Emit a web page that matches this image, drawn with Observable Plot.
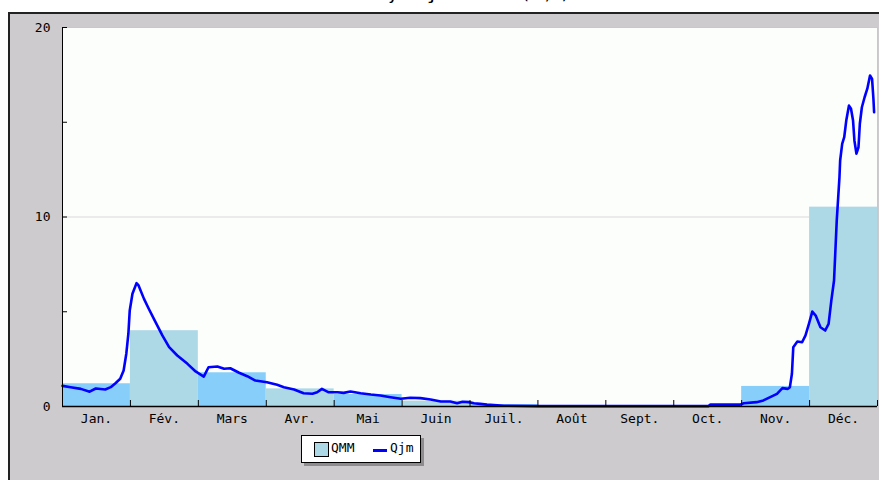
<!DOCTYPE html>
<html>
<head>
<meta charset="utf-8">
<script src="https://cdn.jsdelivr.net/npm/d3@7"></script>
<script src="https://cdn.jsdelivr.net/npm/@observablehq/plot@0.6"></script>
<style>
  html, body { margin: 0; padding: 0; background: #ffffff; }
  body { width: 879px; height: 480px; position: relative; overflow: hidden; font-family: "DejaVu Sans Mono", monospace; }
  #title { position: absolute; left: 8px; width: 871px; top: -11px; text-align: center; font-size: 13px; line-height: 13px; font-weight: bold; color: #000; }
  #panel { position: absolute; left: 8px; top: 12px; width: 869px; height: 466px; background: #cdcbce; border-top: 2px solid #222; border-left: 2px solid #222; }
  #chart { position: absolute; left: 0; top: 0; }
  #legend { position: absolute; left: 291px; top: 421px; width: 118px; height: 26px; background: #fff; border: 1px solid #000; box-shadow: 3px 3px 0 #8e8c8f; font-size: 13px; }
  #legend .sw { position: absolute; left: 12px; top: 6px; width: 13px; height: 13px; background: #add8e6; border: 1px solid #000; }
  #legend .t1 { position: absolute; left: 29px; top: 4px; }
  #legend .ln { position: absolute; left: 71px; top: 13px; width: 14px; height: 3px; background: #0000ff; }
  #legend .t2 { position: absolute; left: 88px; top: 4px; }
</style>
</head>
<body>
<div id="title">Débits moyens journaliers (m3/s)</div>
<div id="panel">
  <div id="chart"></div>
  <div id="legend"><div class="sw"></div><span class="t1">QMM</span><div class="ln"></div><span class="t2">Qjm</span></div>
</div>
<script>
// Month labels
const months = ["Jan.", "Fév.", "Mars", "Avr.", "Mai", "Juin", "Juil.", "Août", "Sept.", "Oct.", "Nov.", "Déc."];
// QMM: monthly mean flow (bars)
const qmm = [1.2, 4.0, 1.78, 0.93, 0.63, 0.28, 0.1, 0.03, 0.02, 0.05, 1.06, 10.52];
// Qjm: daily mean flow, position in months (0 = 1 Jan, 12 = 31 Dec)
const qjmX = [0.00,0.12,0.27,0.40,0.49,0.63,0.71,0.78,0.85,0.90,0.94,0.97,0.99,1.03,1.09,1.12,1.20,1.27,1.37,1.47,1.57,1.69,1.84,1.96,2.08,2.15,2.28,2.38,2.47,2.60,2.72,2.84,3.01,3.16,3.26,3.41,3.55,3.68,3.75,3.82,3.92,4.05,4.14,4.24,4.39,4.54,4.68,4.83,4.98,5.12,5.27,5.42,5.57,5.71,5.81,5.89,5.98,6.06,6.15,6.25,6.50,7.00,8.00,9.00,9.51,9.54,9.98,10.03,10.22,10.32,10.52,10.60,10.68,10.71,10.74,10.76,10.82,10.89,10.94,10.99,11.04,11.09,11.16,11.23,11.28,11.32,11.36,11.38,11.40,11.42,11.44,11.45,11.48,11.51,11.54,11.58,11.61,11.64,11.66,11.69,11.72,11.74,11.77,11.81,11.85,11.89,11.92,11.94,11.95];
const qjmY = [1.09,1.02,0.93,0.78,0.95,0.90,1.02,1.23,1.46,1.90,2.80,3.84,5.07,5.95,6.51,6.39,5.68,5.16,4.45,3.75,3.13,2.69,2.25,1.85,1.58,2.07,2.11,1.99,2.02,1.78,1.60,1.37,1.28,1.15,1.02,0.90,0.70,0.67,0.75,0.93,0.75,0.75,0.72,0.79,0.70,0.63,0.58,0.49,0.41,0.46,0.44,0.37,0.26,0.26,0.17,0.25,0.23,0.17,0.14,0.10,0.04,0.02,0.02,0.02,0.02,0.10,0.10,0.17,0.23,0.32,0.67,0.97,0.93,1.02,1.73,3.13,3.43,3.39,3.75,4.36,5.01,4.80,4.18,4.01,4.36,5.59,6.65,8.23,9.82,10.96,12.10,12.98,13.86,14.21,15.09,15.88,15.71,15.09,14.04,13.34,13.68,14.92,15.79,16.32,16.77,17.47,17.29,16.24,15.53];
// Axis ticks
const yLabelTicks = [0, 10, 20];
const yMinorTicks = [0, 5, 10, 15, 20];
const gridValues = [10];

const barColors = ["#87cefa", "#add8e6"];
const bars = qmm.map((v, i) => ({i, v}));
const line = qjmX.map((x, i) => ({x, y: qjmY[i]}));

const chart = Plot.plot({
  width: 869,
  height: 416,
  marginLeft: 52,
  marginRight: 2,
  marginTop: 13,
  marginBottom: 24,
  style: {fontFamily: "DejaVu Sans Mono, monospace", fontSize: "13px", background: "transparent", color: "#000", overflow: "visible"},
  x: {domain: [0, 12]},
  y: {domain: [0, 20]},
  marks: [
    Plot.frame({fill: "#fcfefc", stroke: "#c8c8c8"}),
    Plot.ruleY(gridValues, {stroke: "#d8d8d8"}),
    Plot.rectY(bars, {x1: d => d.i, x2: d => d.i + 1, y: "v", fill: d => barColors[d.i % 2]}),
    Plot.line(line, {x: "x", y: "y", stroke: "#0000ff", strokeWidth: 2.6, strokeLinejoin: "round"}),
    Plot.ruleX([0], {stroke: "#000"}),
    Plot.ruleY([0], {stroke: "#000", strokeWidth: 1.5}),
    Plot.axisY(yMinorTicks, {tickSize: 5, dx: 5, tickFormat: () => "", label: null, stroke: "#000"}),
    Plot.axisY(yLabelTicks, {tickSize: 0, tickPadding: 12, label: null}),
    Plot.axisX(d3.range(13), {tickSize: 6, dy: -6, tickFormat: () => "", label: null, stroke: "#000"}),
    Plot.axisX(d3.range(12).map(i => i + 0.5), {tickSize: 0, tickPadding: 7, tickFormat: (d, i) => months[i], label: null})
  ]
});
document.getElementById("chart").appendChild(chart);
</script>
</body>
</html>
